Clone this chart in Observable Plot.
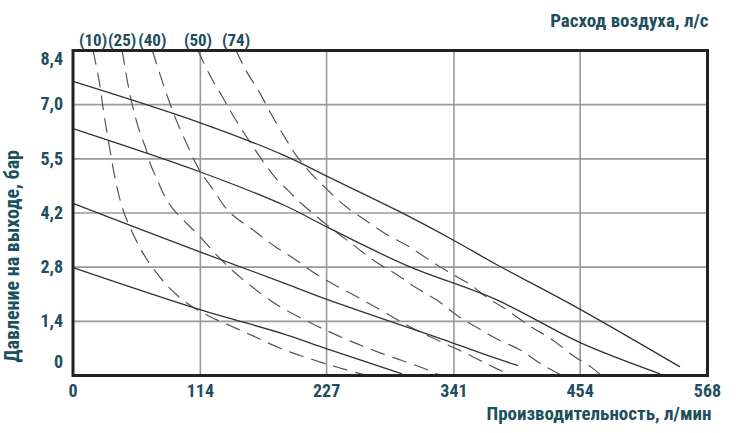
<!DOCTYPE html>
<html><head><meta charset="utf-8">
<script src="https://cdn.jsdelivr.net/npm/d3@7"></script>
<script src="https://cdn.jsdelivr.net/npm/@observablehq/plot@0.6"></script>
<style>body{margin:0;background:#fff}</style>
</head><body><div id="chart"></div>
<script>
// Axis ticks and labels
const xTicks = [0, 114, 227, 341, 454, 568];
const yTicks = [0, 1.4, 2.8, 4.2, 5.6, 7.0, 8.4];
const yTickLabels = ["0", "1,4", "2,8", "4,2", "5,5", "7,0", "8,4"];
const airLabels = ["(10)", "(25)", "(40)", "(50)", "(74)"];
const titleTop = "Расход воздуха, л/с";
const titleX = "Производительность, л/мин";
const titleY = "Давление на выходе, бар";

// Solid curves: performance at different air inlet pressures [flow l/min, outlet pressure bar]
const press1 = [[0,7.60],[112,6.55],[189,5.69],[228,5.14],[292,4.24],[341,3.49],[379,2.87],[454,1.71],[543,0.23]];
const press2 = [[0,6.38],[114,5.26],[189,4.40],[228,3.83],[299,2.84],[379,1.96],[454,0.85],[525,0.05]];
const press3 = [[0,4.45],[113,3.20],[189,2.39],[228,1.96],[339,0.85],[379,0.44],[398,0.26]];
const press4 = [[0,2.79],[113,1.71],[189,1.07],[228,0.68],[294,0.05]];

// Dashed curves: air consumption (l/s)
const air10 = [[18,8.4],[23.5,7.59],[27.9,6.73],[32.4,5.95],[38.3,5.01],[44.3,4.32],[50.3,3.88],[60.7,3.26],[71.2,2.79],[86.1,2.27],[102.5,1.86],[121.9,1.53],[141.3,1.28],[160.7,1.03],[187.6,0.68],[222.2,0.34],[243.1,0.16],[263.7,0]];
const air25 = [[44,8.4],[48.8,7.59],[51.7,7.16],[56.2,6.64],[60.7,6.21],[65.2,5.87],[69.6,5.44],[75.6,5.05],[81.6,4.66],[89.1,4.32],[102.5,3.91],[113,3.61],[126.4,3.18],[141.3,2.75],[159.2,2.32],[177.1,1.93],[189.3,1.71],[214.7,1.33],[234.1,1.07],[255,0.81],[274.4,0.59],[295.2,0.38],[316.2,0.16],[329,0]];
const air40 = [[71,8.4],[80.1,7.59],[90.6,6.73],[101,6.04],[112.4,5.35],[124.9,4.83],[139.8,4.23],[162.2,3.74],[180.1,3.35],[198.3,3.01],[217.7,2.62],[235.6,2.32],[255,2.02],[274.4,1.71],[292.3,1.41],[311.7,1.11],[331.1,0.85],[350.5,0.59],[371.3,0.29],[392,0]];
const air50 = [[111.9,8.4],[122.5,7.76],[133.2,7.23],[143.7,6.70],[155.3,6.17],[168.1,5.62],[181.5,5.10],[192.3,4.79],[201.2,4.53],[213.2,4.23],[227.8,3.88],[252,3.35],[269.9,2.96],[289.3,2.62],[307.2,2.27],[326.6,1.93],[344.5,1.54],[363.9,1.2],[379.1,0.95],[401.5,0.64],[419.4,0.29],[438.2,0]];
const air74 = [[146,8.4],[154.7,7.89],[166.7,7.33],[177.1,6.77],[189.3,6.17],[199.8,5.69],[213.2,5.22],[228.1,4.79],[244.6,4.36],[262.5,4.0],[280.4,3.65],[299.7,3.35],[317.6,3.01],[337.1,2.66],[355,2.36],[372.9,1.97],[385.1,1.76],[408.9,1.28],[428.4,0.94],[447.8,0.51],[464.2,0.21],[471.6,0.03]];

const pressCurves = [press1, press2, press3, press4];
const airCurves = [air10, air25, air40, air50, air74];
const solid = pressCurves.flatMap((pts, i) => pts.map(([x, y]) => ({x, y, s: i})));
const dashed = airCurves.flatMap((pts, i) => pts.map(([x, y]) => ({x, y, s: i})));
const airLabelData = airCurves.map((pts, i) => ({x: pts[0][0], y: pts[0][1], t: airLabels[i]}));

const font = "'Liberation Sans Narrow','Arial Narrow','Roboto Condensed','DejaVu Sans Condensed',sans-serif";
const textColor = "#1d4f5e";
const yFmt = d => yTickLabels[yTicks.indexOf(d)];

const chart = Plot.plot({
  width: 736, height: 433,
  marginLeft: 72.5, marginRight: 29, marginTop: 50, marginBottom: 58,
  x: {domain: [0, 568]},
  y: {domain: [0, 8.4]},
  style: {fontFamily: font, fontSize: "18px", fontWeight: "bold", color: textColor, background: "#fff"},
  marks: [
    Plot.ruleX(xTicks.slice(1, -1), {stroke: "#999", strokeWidth: 1.6}),
    Plot.ruleY(yTicks.slice(1, -1), {stroke: "#999", strokeWidth: 1.6}),
    Plot.line(dashed, {x: "x", y: "y", z: "s", stroke: "#555", strokeWidth: 1.2, strokeDasharray: "14,9", curve: "catmull-rom", clip: true}),
    Plot.line(solid, {x: "x", y: "y", z: "s", stroke: "#333", strokeWidth: 1.3, curve: "catmull-rom", clip: true}),
    Plot.frame({stroke: "#222", strokeWidth: 3}),
    Plot.axisX({ticks: xTicks, tickSize: 0, tickPadding: 9, tickFormat: d => String(d), label: null, fill: textColor}),
    Plot.axisY({ticks: yTicks.slice(1, -1), tickSize: 0, tickPadding: 10, tickFormat: yFmt, label: null, fill: textColor}),
    Plot.axisY({ticks: [yTicks[0]], tickSize: 0, tickPadding: 10, tickFormat: yFmt, label: null, fill: textColor, dy: -13}),
    Plot.axisY({ticks: [yTicks[yTicks.length - 1]], tickSize: 0, tickPadding: 10, tickFormat: yFmt, label: null, fill: textColor, dy: 9}),
    Plot.text(airLabelData, {x: "x", y: "y", text: "t", dy: -5, lineAnchor: "bottom", fill: textColor, fontSize: 17}),
    Plot.text([titleTop], {frameAnchor: "top-right", textAnchor: "end", lineAnchor: "bottom", dx: 1, dy: -24, fill: textColor, fontSize: 19}),
    Plot.text([titleX], {frameAnchor: "bottom-right", textAnchor: "end", lineAnchor: "bottom", dx: 4, dy: 44, fill: textColor, fontSize: 19}),
    Plot.text([titleY], {frameAnchor: "bottom-left", textAnchor: "start", rotate: -90, dx: -54, dy: -13, fill: textColor, fontSize: 20})
  ]
});
document.getElementById("chart").appendChild(chart);
</script>
</body></html>
